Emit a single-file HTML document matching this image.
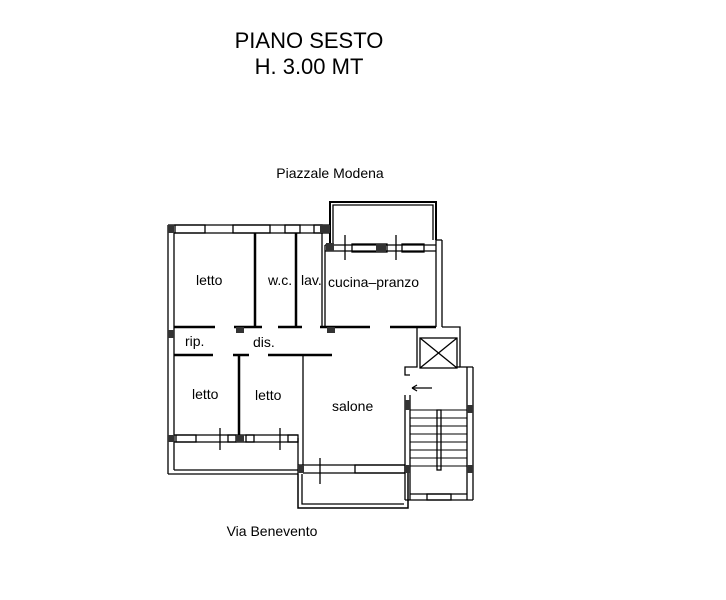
<!DOCTYPE html>
<html><head><style>body{margin:0;background:#fff}svg{display:block}text{font-family:"Liberation Sans",sans-serif;fill:#000}</style></head><body>
<svg width="726" height="600" viewBox="0 0 726 600" xmlns="http://www.w3.org/2000/svg">
<g text-anchor="middle">
<text x="309" y="48" font-size="22">PIANO  SESTO</text>
<text x="309" y="74" font-size="22">H.  3.00  MT</text>
<text x="330" y="178" font-size="14">Piazzale  Modena</text>
<text x="272" y="536" font-size="14">Via  Benevento</text>
</g>
<g font-size="14">
<text x="196" y="285">letto</text>
<text x="268" y="285">w.c.</text>
<text x="301" y="285">lav.</text>
<text x="328" y="287">cucina–pranzo</text>
<text x="185" y="346">rip.</text>
<text x="253" y="347">dis.</text>
<text x="192" y="399">letto</text>
<text x="255" y="400">letto</text>
<text x="332" y="411">salone</text>
</g>
<g fill="none" stroke="#000" stroke-width="1.3">
<!-- outer left -->
<line x1="168" y1="225" x2="168" y2="474"/><line x1="174" y1="233" x2="174" y2="470"/>
<!-- top wall -->
<line x1="168" y1="225" x2="330" y2="225"/><line x1="174" y1="233" x2="330" y2="233"/>
<rect x="175" y="225" width="30" height="8"/><rect x="233" y="225" width="37" height="8"/><rect x="285" y="225" width="15" height="8"/><rect x="314" y="225" width="8" height="8"/>
<!-- balcony top -->
<path d="M330 245 V202 H436 V240" stroke-width="2"/><path d="M333 245 V205 H433 V240"/>
<line x1="325" y1="245" x2="436" y2="245"/><line x1="325" y1="251" x2="436" y2="251"/>
<rect x="352" y="244" width="35" height="8"/><rect x="402" y="244" width="22" height="8"/>
<line x1="345" y1="235" x2="345" y2="260"/><line x1="396" y1="235" x2="396" y2="260"/>
<!-- kitchen right wall -->
<line x1="436" y1="240" x2="436" y2="327"/><line x1="442" y1="240" x2="442" y2="327"/>
<line x1="436" y1="240" x2="442" y2="240"/>
<!-- corridor top -->
<g stroke-width="2.5">
<line x1="174" y1="327" x2="215" y2="327"/><line x1="234" y1="327" x2="262" y2="327"/><line x1="278" y1="327" x2="302" y2="327"/><line x1="320" y1="327" x2="370" y2="327"/><line x1="390" y1="327" x2="436" y2="327"/>
<line x1="174" y1="355" x2="213" y2="355"/><line x1="233" y1="355" x2="249" y2="355"/><line x1="268" y1="355" x2="332" y2="355"/>
<line x1="255" y1="233" x2="255" y2="327"/>
<line x1="296" y1="233" x2="296" y2="327"/>
<line x1="239" y1="355" x2="239" y2="437"/>
</g>
<line x1="322" y1="233" x2="322" y2="327"/><line x1="325" y1="245" x2="325" y2="327"/>
<line x1="303" y1="355" x2="303" y2="438"/>
<!-- lower window wall -->
<line x1="174" y1="435" x2="298" y2="435"/><line x1="174" y1="442" x2="298" y2="442"/>
<rect x="176" y="435" width="20" height="7"/><rect x="228" y="435" width="8" height="7"/><rect x="246" y="435" width="8" height="7"/><rect x="288" y="435" width="10" height="7"/>
<line x1="220" y1="428" x2="220" y2="450"/><line x1="280" y1="428" x2="280" y2="450"/>
<!-- bottom -->
<line x1="168" y1="474" x2="298" y2="474"/><line x1="174" y1="470" x2="298" y2="470"/>
<line x1="298" y1="438" x2="298" y2="474"/><line x1="303" y1="438" x2="303" y2="468"/>
<!-- salone window & balcony -->
<line x1="298" y1="465" x2="405" y2="465"/><line x1="303" y1="473" x2="405" y2="473"/>
<rect x="355" y="465" width="50" height="8"/>
<line x1="320" y1="458" x2="320" y2="484"/>
<path d="M298 474 V508 H408 V473" stroke-width="1.5"/><path d="M302 474 V504 H404"/>
<!-- stair core -->
<line x1="405" y1="395" x2="405" y2="500"/><line x1="410" y1="395" x2="410" y2="500"/>
<line x1="467" y1="367" x2="467" y2="500"/><line x1="473" y1="367" x2="473" y2="500"/>
<line x1="405" y1="500" x2="473" y2="500"/><line x1="410" y1="494" x2="467" y2="494"/>
<rect x="427" y="494" width="24" height="6"/>
<path d="M442 327 H460 V367 H473"/><path d="M417 327 V367 H405 V375 H410"/><path d="M460 367 H455"/>
<rect x="420" y="338" width="37" height="30"/>
<line x1="420" y1="338" x2="457" y2="368"/><line x1="457" y1="338" x2="420" y2="368"/>
<line x1="412" y1="388" x2="432" y2="388"/><path d="M412 388 l5 -3 M412 388 l5 3"/>
<rect x="437" y="410" width="4" height="60"/>
<g stroke-width="1">
<line x1="410" y1="410" x2="467" y2="410"/><line x1="410" y1="418" x2="467" y2="418"/><line x1="410" y1="426" x2="467" y2="426"/><line x1="410" y1="434" x2="467" y2="434"/><line x1="410" y1="442" x2="467" y2="442"/><line x1="410" y1="450" x2="467" y2="450"/><line x1="410" y1="458" x2="467" y2="458"/><line x1="410" y1="466" x2="467" y2="466"/>
</g>
</g>
<g fill="#333">
<rect x="168" y="225" width="6" height="8"/><rect x="320" y="225" width="10" height="8"/><rect x="326" y="243" width="8" height="8"/><rect x="376" y="244" width="10" height="8"/>
<rect x="236" y="327" width="8" height="6"/><rect x="327" y="327" width="8" height="6"/>
<rect x="168" y="330" width="6" height="8"/><rect x="168" y="435" width="6" height="7"/><rect x="236" y="435" width="8" height="7"/>
<rect x="298" y="465" width="6" height="8"/><rect x="405" y="400" width="5" height="10"/><rect x="405" y="465" width="5" height="8"/><rect x="467" y="405" width="6" height="8"/><rect x="467" y="465" width="6" height="8"/>
</g>
</svg>
</body></html>
